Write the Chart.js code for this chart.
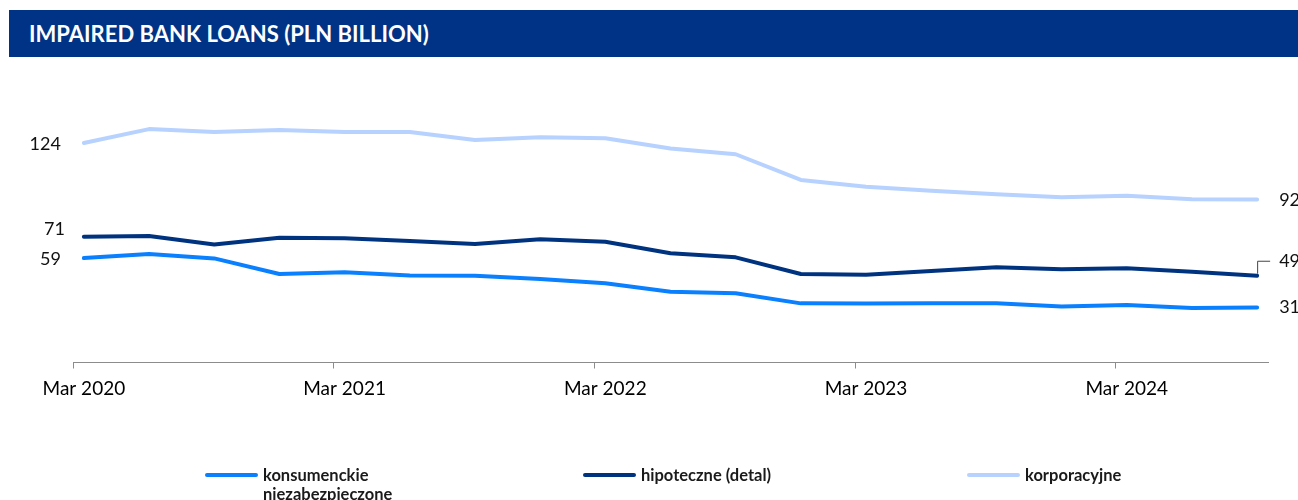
<!DOCTYPE html>
<html>
<head>
<meta charset="utf-8">
<script src="https://cdn.jsdelivr.net/npm/chart.js@4.4.1/dist/chart.umd.min.js"></script>
<style>
  body { margin: 0; background: #fff; font-family: Lato, sans-serif; }
  #wrap { position: relative; width: 1298px; height: 500px; overflow: hidden; }
  #title { position: absolute; left: 9px; top: 10px; width: 1289px; height: 47px; background: #003385;
           color: #fff; font: bold 22px Lato; line-height: 47px; padding-left: 20px; box-sizing: border-box; }
  canvas { position: absolute; left: 0; top: 0; }
  .lg { position: absolute; top: 466px; font: bold 16.5px Lato; color: #1a1a1a; line-height: 19px; }
  .lg i { position: absolute; left: -58px; top: 7px; width: 53px; height: 4px; border-radius: 2px; }
</style>
</head>
<body>
<div id="wrap">
  <canvas id="c" width="1298" height="500"></canvas>
  <div id="title">IMPAIRED BANK LOANS (PLN BILLION)</div>
  <div class="lg" style="left:263px"><i style="background:#0a80ff"></i>konsumenckie<br>niezabezpieczone</div>
  <div class="lg" style="left:641px"><i style="background:#00337f"></i>hipoteczne (detal)</div>
  <div class="lg" style="left:1025px"><i style="background:#b7d2ff"></i>korporacyjne</div>
</div>
<script>
const quarters = ['Mar 2020','Jun 2020','Sep 2020','Dec 2020','Mar 2021','Jun 2021','Sep 2021','Dec 2021',
                  'Mar 2022','Jun 2022','Sep 2022','Dec 2022','Mar 2023','Jun 2023','Sep 2023','Dec 2023',
                  'Mar 2024','Jun 2024','Sep 2024'];
const konsumenckie = [59, 61.3, 58.8, 50.0, 50.9, 49.2, 49.0, 47.1, 44.7, 40.0, 39.1, 33.4, 33.3, 33.4, 33.4, 31.6, 32.5, 30.8, 31];
const hipoteczne   = [71, 71.4, 66.7, 70.5, 70.1, 68.6, 66.9, 69.6, 68.2, 61.7, 59.4, 50.0, 49.6, 51.7, 53.8, 52.6, 53.2, 51.2, 49];
const korporacyjne = [124, 131.8, 130.2, 131.3, 130.2, 130.2, 125.6, 127.2, 126.6, 120.9, 117.6, 103.1, 99.3, 97.0, 95.0, 93.3, 94.2, 92.2, 92];
const tickLabels = ['Mar 2020','Mar 2021','Mar 2022','Mar 2023','Mar 2024'];

// monthly axis, Mar 2020 .. Sep 2024, so quarters sit mid-month
const MON = ['Jan','Feb','Mar','Apr','May','Jun','Jul','Aug','Sep','Oct','Nov','Dec'];
const months = [];
for (let y = 2020, m = 2; y < 2024 || m <= 8; m++) {
  if (m > 11) { m = 0; y++; }
  months.push(MON[m] + ' ' + y);
}

const pts = arr => arr.map((v, i) => ({ x: quarters[i], y: v }));

// first / last value labels, drawn beside the line ends
const endLabels = {
  id: 'endLabels',
  afterDatasetsDraw(chart) {
    const { ctx } = chart;
    ctx.save();
    ctx.font = '18px Lato';
    ctx.fillStyle = '#111';
    ctx.textBaseline = 'middle';
    chart.data.datasets.forEach((ds, i) => {
      const el = chart.getDatasetMeta(i).data;
      const a = el[0], b = el[el.length - 1];
      const o = ds.ends;
      ctx.textAlign = 'right';
      ctx.fillText(Math.round(ds.data[0].y), a.x + o.start[0], a.y + o.start[1]);
      ctx.textAlign = 'left';
      const ly = b.y + o.end[1];
      ctx.fillText(Math.round(ds.data[ds.data.length - 1].y), b.x + o.end[0], ly);
      if (o.leader) {
        ctx.strokeStyle = '#444';
        ctx.lineWidth = 1;
        ctx.beginPath();
        ctx.moveTo(b.x + 0.5, b.y - 2);
        ctx.lineTo(b.x + 0.5, ly + 0.5);
        ctx.lineTo(b.x + 13, ly + 0.5);
        ctx.stroke();
      }
    });
    ctx.restore();
  }
};

const line = (data, color, ends) => ({
  data: pts(data), borderColor: color, borderWidth: 4, pointRadius: 0,
  tension: 0, borderJoinStyle: 'round', borderCapStyle: 'round', ends
});

new Chart(document.getElementById('c'), {
  type: 'line',
  data: {
    labels: months,
    datasets: [
      line(korporacyjne, '#b7d2ff', { start: [-23, 1], end: [22, 1] }),
      line(hipoteczne,   '#00337f', { start: [-19, -8], end: [22, -15], leader: true }),
      line(konsumenckie, '#0a80ff', { start: [-23, 1], end: [22, 0] }),
    ],
  },
  options: {
    responsive: false, animation: false,
    layout: { padding: { top: 114.6, bottom: 90.7, left: 73, right: 30 } },
    plugins: { legend: { display: false }, tooltip: { enabled: false } },
    scales: {
      x: {
        offset: true,
        grid: {
          offset: true, drawOnChartArea: false, tickLength: 6, lineWidth: 1,
          color: c => tickLabels.includes(months[c.index]) ? '#8c8c8c' : 'rgba(0,0,0,0)',
        },
        border: { display: true, color: '#8c8c8c', width: 1 },
        ticks: {
          autoSkip: false, maxRotation: 0, padding: 9, color: '#000', font: { family: 'Lato', size: 19 },
          callback(v) { const l = this.getLabelForValue(v); return tickLabels.includes(l) ? l : ''; },
        },
      },
      y: { display: false, min: 0, max: 140 },
    },
  },
  plugins: [endLabels],
});
</script>
</body>
</html>
